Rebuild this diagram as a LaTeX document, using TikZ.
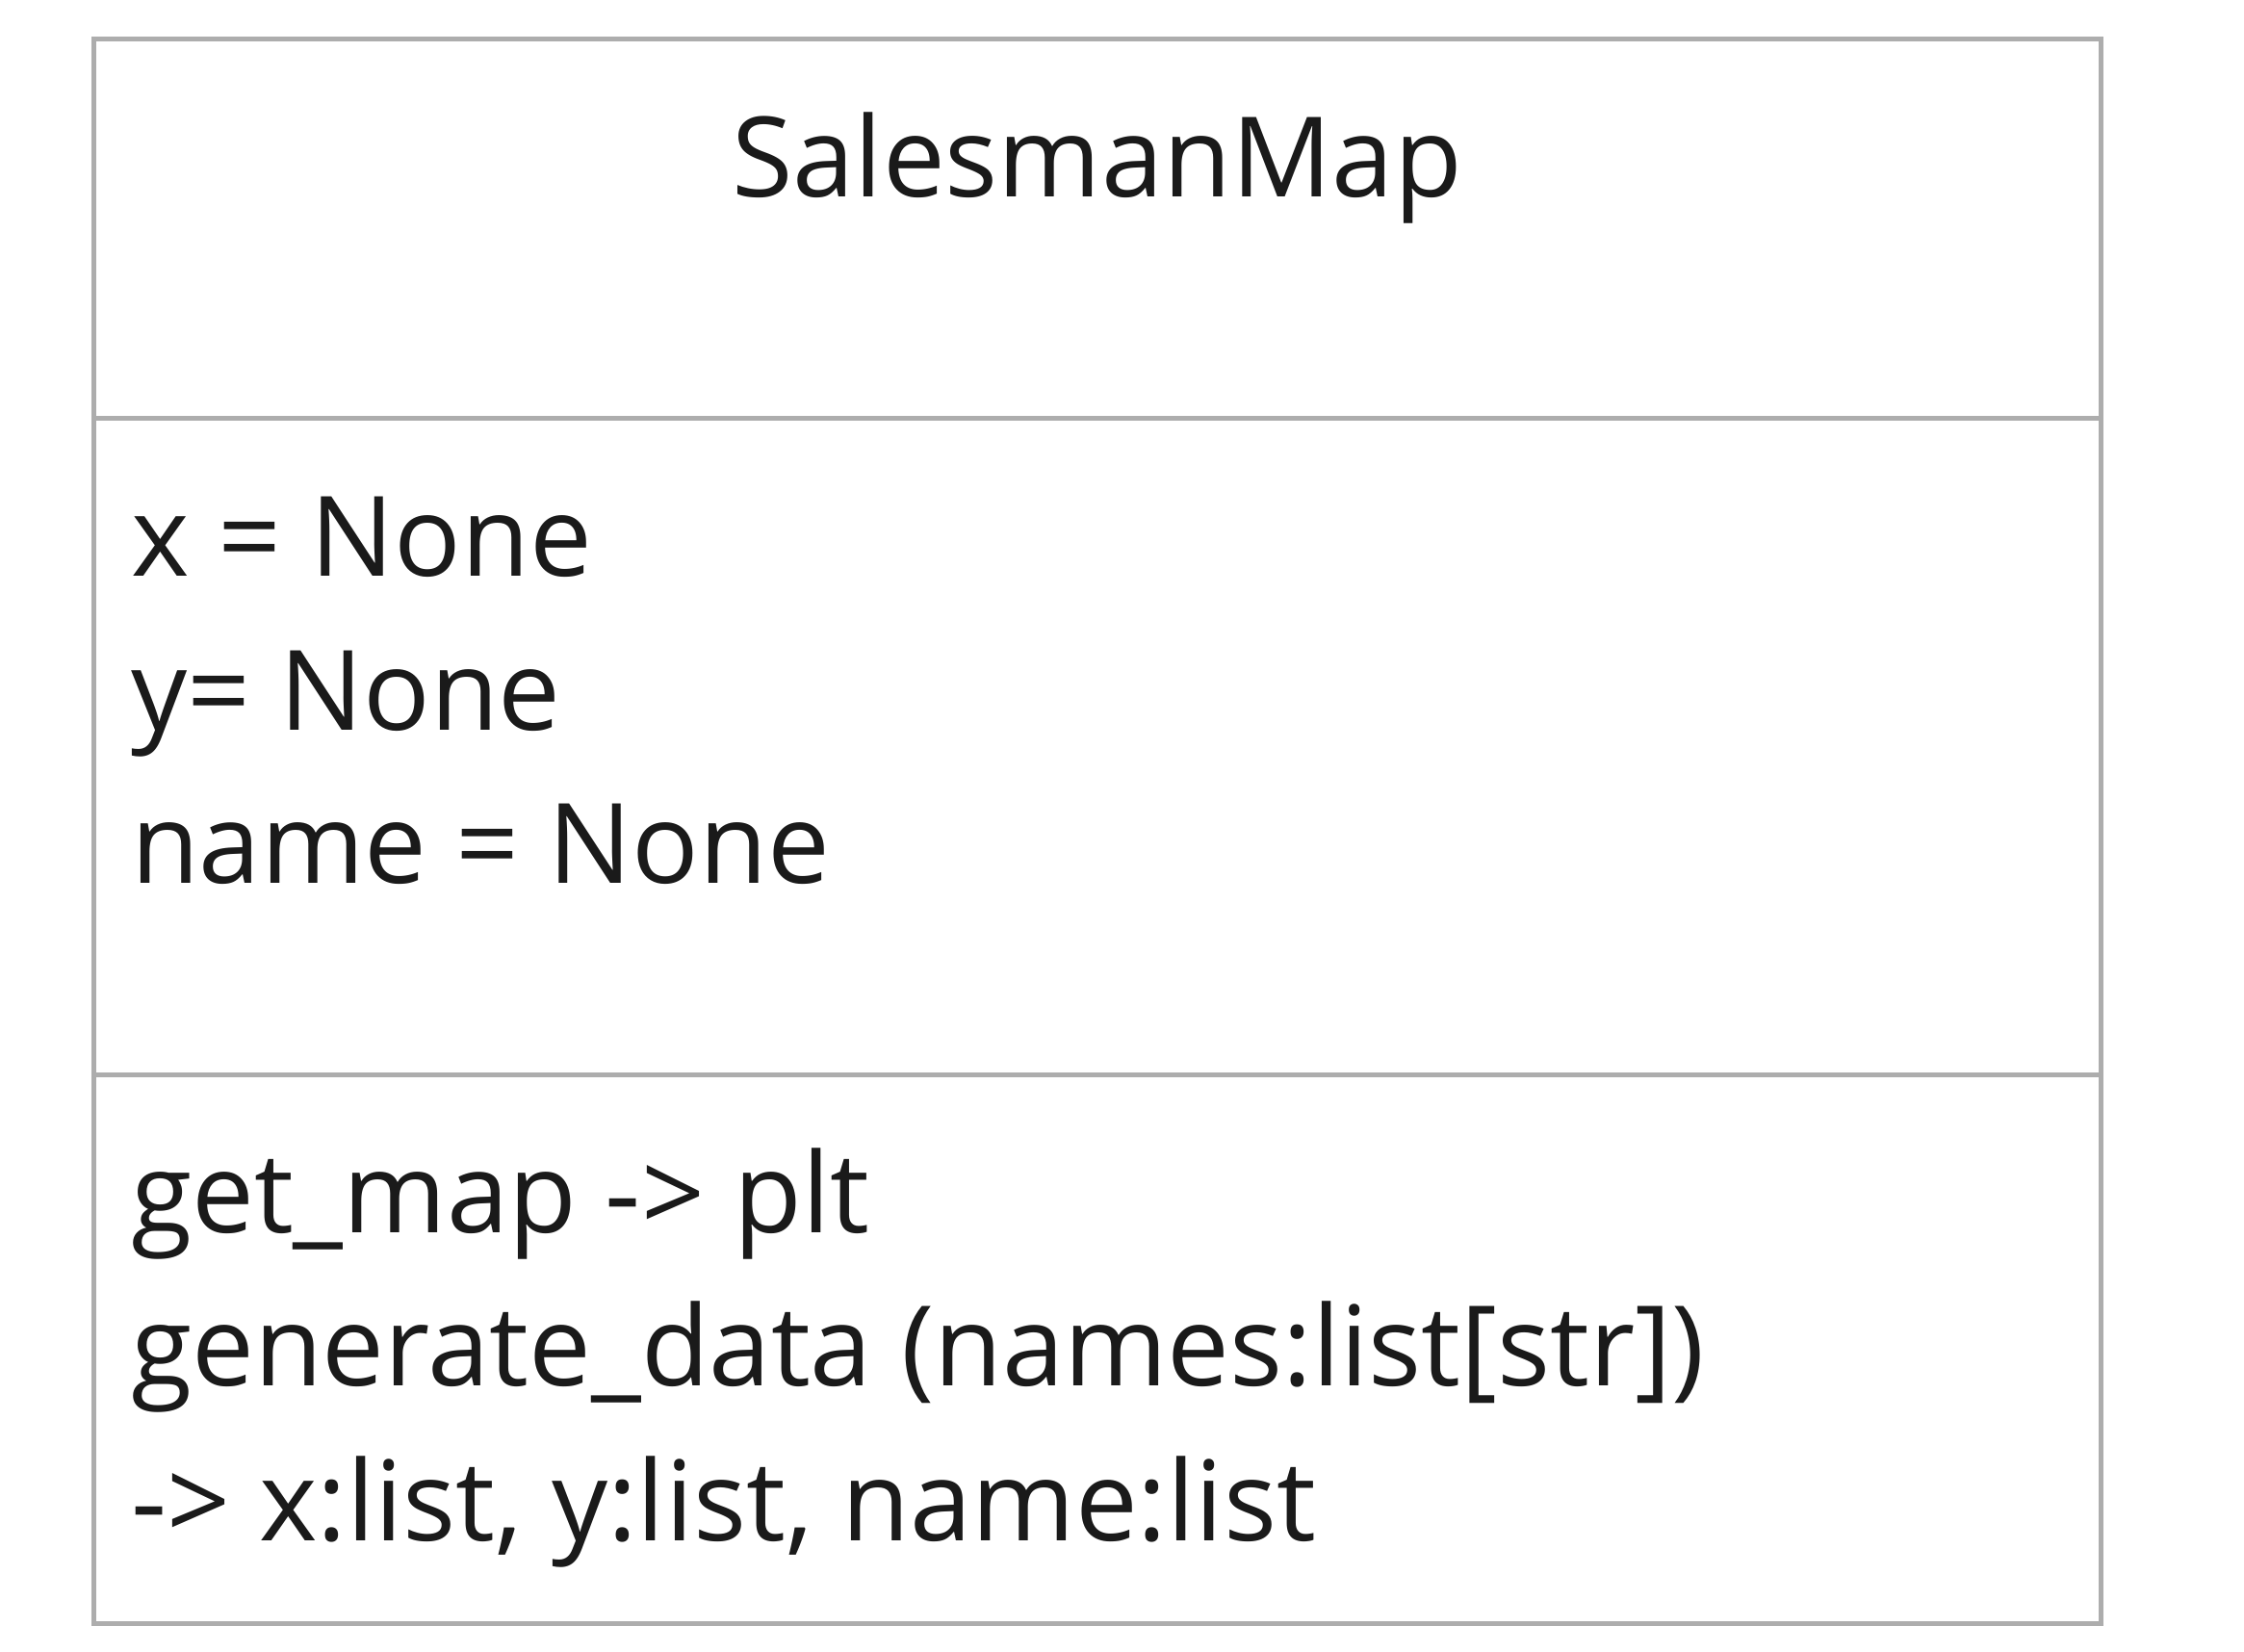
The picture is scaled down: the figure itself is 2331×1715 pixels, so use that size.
\documentclass[tikz,border=0pt]{standalone}
\usepackage{fontspec}
\setmainfont{Open Sans}
\definecolor{umlgray}{HTML}{ADADAD}
\definecolor{umltext}{HTML}{1A1A1A}

\begin{document}
\begin{tikzpicture}[x=0.1pt,y=-0.1pt,
    frame/.style={draw=umlgray, line width=0.5pt},
    member/.style={anchor=base west, text=umltext, inner sep=0pt, font=\fontsize{11.55}{16}\selectfont}]

    \useasboundingbox (0,0) rectangle (2331,1715);

    % Box
    \draw[frame] (97,40) rectangle (2182,1686);
    \draw[frame] (97,434) -- (2182,434);
    \draw[frame] (97,1116) -- (2182,1116);

    % Title
    \node[member, anchor=base] (title) at (1139.5,204) {SalesmanMap};

    % Attributes
    \node[member] (attrx) at (134,598) {x = None};
    \node[member] (attry) at (134,758) {y= None};
    \node[member] (attrname) at (134,917) {name = None};

    % Methods
    \node[member] (getmap) at (134,1280) {get\_map -> plt};
    \node[member] (gendata) at (134,1439) {generate\_data (names:list[str])};
    \node[member] (genret) at (134,1600) {-> x:list, y:list, name:list};

\end{tikzpicture}
\end{document}
